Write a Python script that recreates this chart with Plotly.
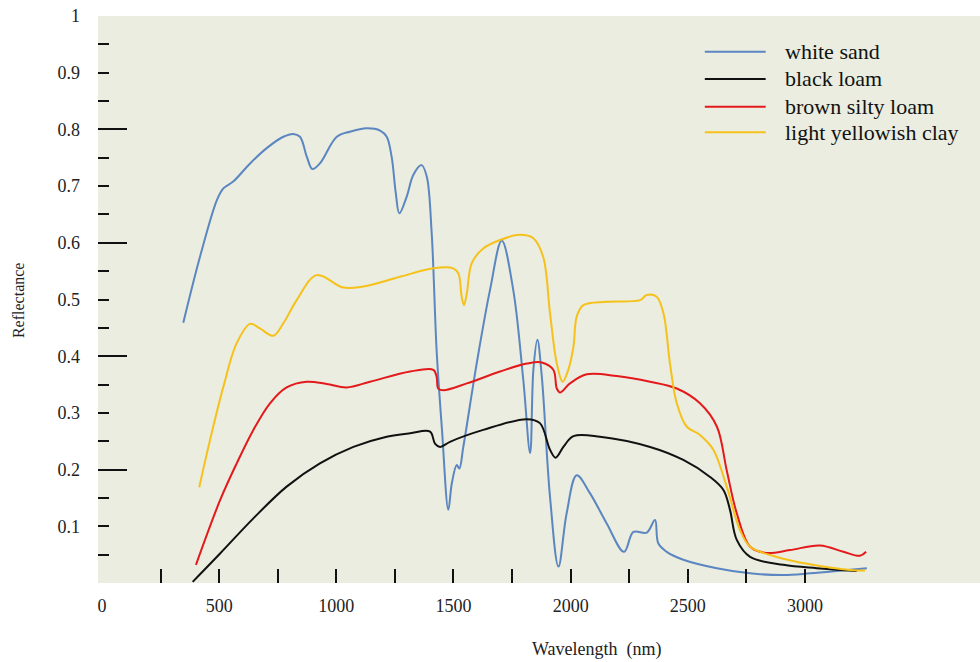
import plotly.graph_objects as go

# Reflectance spectra of four soils (wavelength in nm, reflectance 0-1)
white_sand_nm = [347, 418, 490, 518, 560, 632, 703, 774, 816, 845, 874, 898, 930, 1002,
                 1058, 1130, 1187, 1215, 1236, 1254, 1269, 1300, 1329, 1364, 1386, 1407,
                 1428, 1451, 1478, 1493, 1514, 1525, 1542, 1599, 1656, 1706, 1755, 1798,
                 1827, 1841, 1858, 1877, 1912, 1948, 1983, 2026, 2083, 2154, 2228, 2268,
                 2325, 2360, 2374, 2410, 2481, 2624, 2766, 2908, 3022, 3136, 3264]
white_sand = [0.459, 0.575, 0.675, 0.696, 0.708, 0.740, 0.767, 0.787, 0.792, 0.787, 0.752,
              0.730, 0.740, 0.787, 0.796, 0.802, 0.798, 0.787, 0.752, 0.687, 0.652, 0.681,
              0.720, 0.737, 0.717, 0.617, 0.411, 0.270, 0.129, 0.176, 0.208, 0.202, 0.240,
              0.387, 0.517, 0.604, 0.517, 0.358, 0.229, 0.376, 0.429, 0.364, 0.152, 0.029,
              0.123, 0.190, 0.158, 0.105, 0.055, 0.090, 0.089, 0.111, 0.070, 0.055, 0.041,
              0.026, 0.017, 0.014, 0.017, 0.021, 0.026]

black_loam_nm = [387, 504, 646, 788, 930, 1073, 1215, 1315, 1400, 1421, 1443, 1485, 1627,
                 1813, 1869, 1912, 1936, 1969, 2012, 2125, 2339, 2481, 2595, 2652, 2680,
                 2709, 2766, 2908, 3050, 3221]
black_loam = [0.002, 0.052, 0.114, 0.170, 0.211, 0.240, 0.258, 0.264, 0.267, 0.246, 0.240,
              0.249, 0.270, 0.289, 0.282, 0.235, 0.221, 0.240, 0.259, 0.258, 0.240, 0.217,
              0.187, 0.164, 0.129, 0.076, 0.046, 0.032, 0.026, 0.021]

brown_silty_loam_nm = [401, 504, 575, 646, 717, 788, 874, 959, 1044, 1144, 1315, 1414, 1428,
                       1435, 1457, 1557, 1699, 1813, 1877, 1926, 1941, 1955, 1997, 2069,
                       2197, 2339, 2453, 2552, 2624, 2666, 2709, 2766, 2837, 2936, 3064,
                       3164, 3235, 3261]
brown_silty_loam = [0.032, 0.146, 0.211, 0.270, 0.317, 0.345, 0.355, 0.351, 0.345, 0.355,
                    0.373, 0.376, 0.364, 0.343, 0.340, 0.352, 0.373, 0.387, 0.389, 0.376,
                    0.343, 0.336, 0.352, 0.368, 0.365, 0.355, 0.343, 0.317, 0.276, 0.199,
                    0.123, 0.064, 0.053, 0.058, 0.066, 0.055, 0.048, 0.055]

yellowish_clay_nm = [415, 461, 518, 575, 632, 674, 731, 774, 831, 916, 1030, 1115, 1272,
                     1414, 1499, 1521, 1535, 1545, 1557, 1578, 1627, 1699, 1784, 1841, 1883,
                     1912, 1941, 1966, 1990, 2012, 2026, 2054, 2154, 2296, 2325, 2367, 2396,
                     2424, 2453, 2495, 2552, 2609, 2666, 2723, 2766, 2880, 3022, 3192, 3256]
yellowish_clay = [0.169, 0.252, 0.346, 0.423, 0.457, 0.449, 0.436, 0.458, 0.499, 0.543,
                  0.521, 0.523, 0.540, 0.555, 0.555, 0.546, 0.505, 0.490, 0.511, 0.564,
                  0.590, 0.605, 0.614, 0.608, 0.575, 0.476, 0.387, 0.355, 0.376, 0.417,
                  0.470, 0.490, 0.496, 0.499, 0.508, 0.505, 0.476, 0.387, 0.317, 0.276,
                  0.261, 0.235, 0.170, 0.093, 0.064, 0.046, 0.033, 0.023, 0.022]

series_names = ["white sand", "black loam", "brown silty loam", "light yellowish clay"]
series_colors = ["#5b86c1", "#111111", "#e3191c", "#f6c11a"]

x_label_vals = [0, 500, 1000, 1500, 2000, 2500, 3000]
x_tick_vals = [250, 500, 750, 1000, 1250, 1500, 1750, 2000, 2250, 2500, 2750, 3000]
y_label_vals = [0.1, 0.2, 0.3, 0.4, 0.5, 0.6, 0.7, 0.8, 0.9, 1]
y_label_text = ["0.1", "0.2", "0.3", "0.4", "0.5", "0.6", "0.7", "0.8", "0.9", "1"]
y_minor_vals = [0.05, 0.1, 0.15, 0.2, 0.25, 0.3, 0.35, 0.4, 0.45, 0.5,
                0.55, 0.6, 0.65, 0.7, 0.75, 0.8, 0.85, 0.9, 0.95]
y_major_vals = [0.2, 0.4, 0.6, 0.8]

X_RANGE = [-17, 3747]
Y_RANGE = [0, 1]
SERIF = "Liberation Serif"
BG = "#eaeddf"

fig = go.Figure()
data = [(white_sand_nm, white_sand), (black_loam_nm, black_loam),
        (brown_silty_loam_nm, brown_silty_loam), (yellowish_clay_nm, yellowish_clay)]
for (xs, ys), name, color in zip(data, series_names, series_colors):
    fig.add_trace(go.Scatter(x=xs, y=ys, mode="lines", name=name, showlegend=False,
                             line=dict(color=color, width=2, shape="spline", smoothing=1.0)))

axis_common = dict(showgrid=False, zeroline=False, showline=False)
fig.update_layout(
    width=980, height=662,
    margin=dict(l=98, r=0, t=16, b=79),
    paper_bgcolor="white", plot_bgcolor=BG,
    font=dict(family=SERIF, color="#222222", size=18),
    xaxis=dict(range=X_RANGE, tickvals=x_label_vals, ticks="inside", ticklen=0,
               ticklabelstandoff=10, tickfont=dict(family=SERIF, size=18), **axis_common),
    xaxis2=dict(range=X_RANGE, overlaying="x", anchor="y", tickvals=x_tick_vals,
                ticks="inside", ticklen=14, tickwidth=2, tickcolor="#111111",
                showticklabels=False, **axis_common),
    yaxis=dict(range=Y_RANGE, tickvals=y_label_vals, ticktext=y_label_text,
               ticks="inside", ticklen=0, ticklabelstandoff=17,
               tickfont=dict(family=SERIF, size=18), **axis_common),
    yaxis2=dict(range=Y_RANGE, overlaying="y", anchor="x", side="left",
                tickvals=y_minor_vals, ticks="inside", ticklen=11, tickwidth=2,
                tickcolor="#111111", showticklabels=False, **axis_common),
    yaxis3=dict(range=Y_RANGE, overlaying="y", anchor="x", side="left",
                tickvals=y_major_vals, ticks="inside", ticklen=29, tickwidth=2,
                tickcolor="#111111", showticklabels=False, **axis_common),
)

# empty traces so the overlay axes are drawn
fig.add_trace(go.Scatter(x=[], y=[], xaxis="x2", yaxis="y2", showlegend=False))
fig.add_trace(go.Scatter(x=[], y=[], xaxis="x", yaxis="y3", showlegend=False))

# axis titles
fig.add_annotation(text="Wavelength  (nm)", xref="paper", yref="paper", x=0.566, y=-0.118,
                   showarrow=False, font=dict(family=SERIF, size=18, color="#222222"),
                   xanchor="center", yanchor="middle")
fig.add_annotation(text="Reflectance", xref="paper", yref="paper", x=-0.0907, y=0.499,
                   showarrow=False, textangle=-90,
                   font=dict(family=SERIF, size=16, color="#222222"),
                   xanchor="center", yanchor="middle")

# legend drawn as line samples with labels
legend_rows = [0.937, 0.889, 0.840, 0.795]
for name, color, ly in zip(series_names, series_colors, legend_rows):
    fig.add_shape(type="line", xref="paper", yref="paper", x0=0.688, x1=0.757, y0=ly, y1=ly,
                  line=dict(color=color, width=2))
    fig.add_annotation(text=name, xref="paper", yref="paper", x=0.777, y=ly,
                       showarrow=False, xanchor="left", yanchor="middle",
                       font=dict(family=SERIF, size=22, color="#111111"))

fig.write_html("out.html")
